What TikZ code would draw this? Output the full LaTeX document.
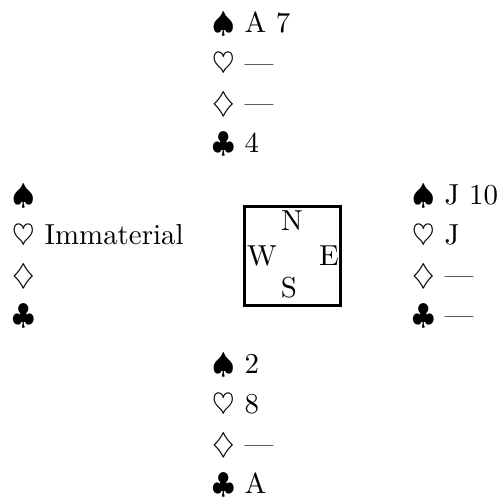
\documentclass[tikz,border=0pt]{standalone}
\begin{document}
\begin{tikzpicture}[x=0.346pt,y=-0.346pt,
  card/.style={inner sep=0pt,anchor=base west},
  seat/.style={inner sep=0pt,anchor=base},
  tablebox/.style={draw,line width=1.15pt,inner sep=0pt,minimum width=96*0.346pt,minimum height=99*0.346pt}]
\useasboundingbox (0,0) rectangle (499,499);
% North
\node[card] (n1) at (212,32) {$\spadesuit$ A 7};
\node[card] (n2) at (212,72) {$\heartsuit$ ---};
\node[card] (n3) at (212,112) {$\diamondsuit$ ---};
\node[card] (n4) at (212,152) {$\clubsuit$ 4};
% West
\node[card] (w1) at (12,204) {$\spadesuit$};
\node[card] (w2) at (12,244) {$\heartsuit$ Immaterial};
\node[card] (w3) at (12,284) {$\diamondsuit$};
\node[card] (w4) at (12,324) {$\clubsuit$};
% East
\node[card] (e1) at (412,204) {$\spadesuit$ J 10};
\node[card] (e2) at (412,244) {$\heartsuit$ J};
\node[card] (e3) at (412,284) {$\diamondsuit$ ---};
\node[card] (e4) at (412,324) {$\clubsuit$ ---};
% South
\node[card] (s1) at (212,373) {$\spadesuit$ 2};
\node[card] (s2) at (212,413) {$\heartsuit$ 8};
\node[card] (s3) at (212,453) {$\diamondsuit$ ---};
\node[card] (s4) at (212,493) {$\clubsuit$ A};
% Table
\node[tablebox] (tbl) at (292.5,256) {};
\node[seat] (sn) at (292,230) {N};
\node[seat] (sw) at (262,265) {W};
\node[seat] (se) at (329,265) {E};
\node[seat] (ss) at (289,297) {S};
\end{tikzpicture}
\end{document}
